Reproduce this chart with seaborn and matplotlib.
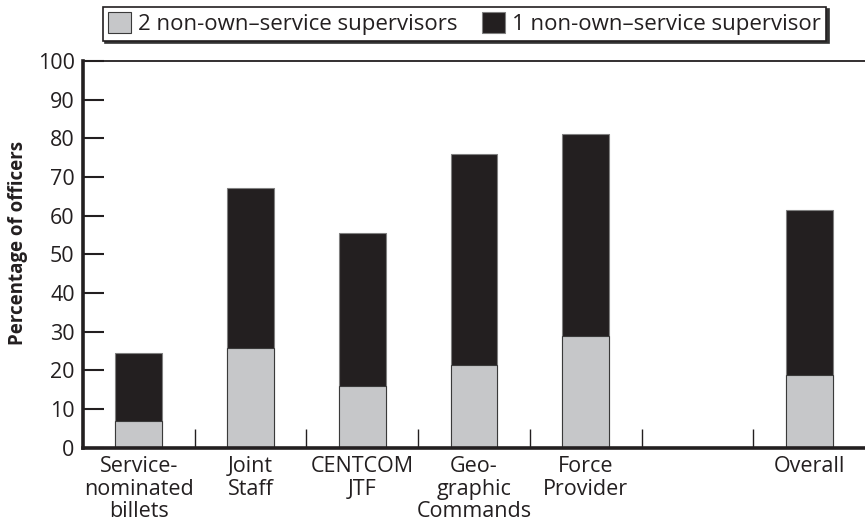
import matplotlib
matplotlib.use("Agg")
import matplotlib.pyplot as plt
from matplotlib.patches import Patch
import seaborn as sns
import pandas as pd
import numpy as np

# ---- data ----
categories = ["Service-\nnominated\nbillets", "Joint\nStaff", "CENTCOM\nJTF",
              "Geo-\ngraphic\nCommands", "Force\nProvider", "Overall"]
two_supervisors = [6.9, 25.7, 16.1, 21.5, 29.0, 18.7]
one_supervisor = [17.5, 41.4, 39.4, 54.4, 52.1, 42.9]
series_labels = ["2 non-own\u2013service supervisors", "1 non-own\u2013service supervisor"]
y_ticks = [0, 10, 20, 30, 40, 50, 60, 70, 80, 90, 100]

GRAY = "#c6c7c9"
BLACK = "#231f20"
TXT = "#231f20"
FS = 15.5

sns.set_theme(style="white")
plt.rcParams["font.family"] = ["Open Sans", "DejaVu Sans"]
plt.rcParams.update({
    "text.color": TXT, "axes.labelcolor": TXT,
    "xtick.color": TXT, "ytick.color": TXT,
    "ytick.left": True, "xtick.bottom": True,
})

blank = " "
order = categories[:5] + [blank] + categories[5:]
df = pd.DataFrame({
    "cat": categories,
    "two": two_supervisors,
    "total": np.add(two_supervisors, one_supervisor),
})

fig = plt.figure(figsize=(8.65, 5.3), dpi=100)
ax = fig.add_axes([0.096, 0.155, 0.904, 0.730])

sns.barplot(data=df, x="cat", y="total", order=order, color=BLACK, saturation=1,
            width=0.42, edgecolor="#808080", linewidth=0.8, errorbar=None, ax=ax)
sns.barplot(data=df, x="cat", y="two", order=order, color=GRAY, saturation=1,
            width=0.42, edgecolor="#3a3a3a", linewidth=0.8, errorbar=None, ax=ax)

ax.set_xlim(-0.5, len(order) - 0.5)
ax.set_ylim(0, 100)
ax.set_yticks(y_ticks, [str(v) for v in y_ticks])

# separators as major ticks, category labels as minor ticks
ax.set_xticks([i + 0.5 for i in range(len(order) - 1)])
ax.set_xticklabels([""] * (len(order) - 1))
label_pos = [i for i, c in enumerate(order) if c != blank]
ax.set_xticks(label_pos, minor=True)
ax.set_xticklabels(categories, minor=True, linespacing=1.1)

ax.tick_params(axis="x", which="major", bottom=True, direction="in", length=13.5,
               width=1.0, labelbottom=False)
ax.tick_params(axis="x", which="minor", bottom=True, length=0, labelsize=FS, pad=6)
ax.tick_params(axis="y", which="major", left=True, direction="in", length=15,
               width=1.5, labelsize=FS, pad=6, color=BLACK)

for s in ["left", "bottom"]:
    ax.spines[s].set_linewidth(2.6)
    ax.spines[s].set_color(BLACK)
ax.spines["top"].set_linewidth(1.3)
ax.spines["top"].set_color(BLACK)
ax.spines["right"].set_visible(False)

ax.set_xlabel("")
ax.set_ylabel("Percentage of officers", fontsize=13.5, fontweight="bold")
ax.yaxis.set_label_coords(-0.07, 0.53)

handles = [Patch(facecolor=GRAY, edgecolor="#3a3a3a", linewidth=0.8),
           Patch(facecolor=BLACK, edgecolor="#808080", linewidth=0.8)]
leg = fig.legend(handles, series_labels, loc="upper center",
                 bbox_to_anchor=(0.537, 1.0), ncol=2, frameon=True, fancybox=False,
                 edgecolor=BLACK,
                 shadow={"facecolor": "#333333", "edgecolor": "#333333", "alpha": 1},
                 fontsize=16, handlelength=1.05, handleheight=1.05, handletextpad=0.3,
                 columnspacing=1.1, borderpad=0.25, borderaxespad=0.3)
leg.get_frame().set_linewidth(1.2)
leg.get_frame().set_alpha(1)

fig.savefig("out.png", dpi=100)
